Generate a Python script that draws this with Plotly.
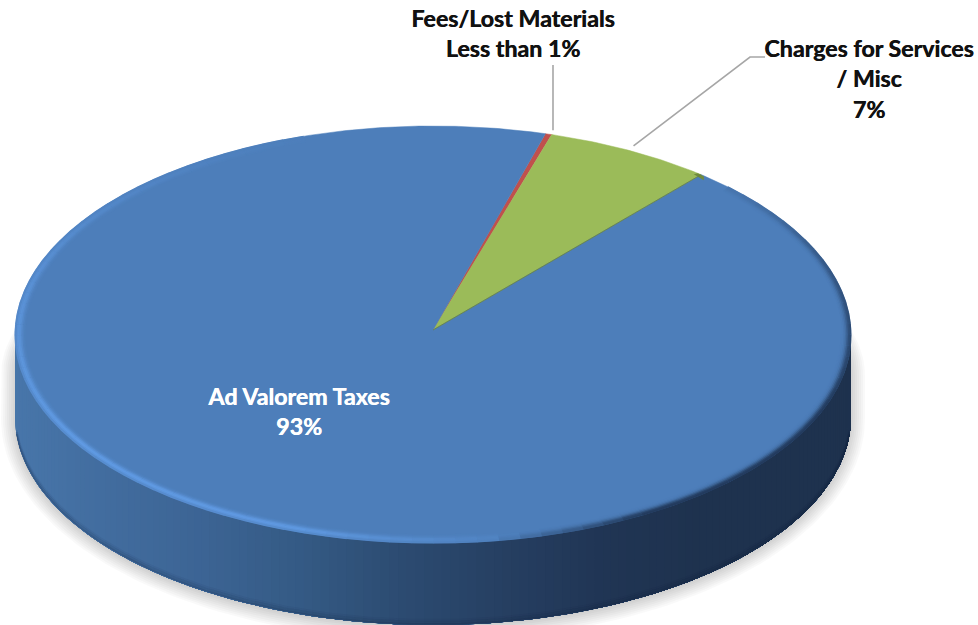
import numpy as np
import plotly.graph_objects as go

# Revenue shares, clockwise from the first slice
slice_names = ["Fees/Lost Materials", "Charges for Services / Misc", "Ad Valorem Taxes"]
slice_shares = [0.25, 6.5, 93.25]
slice_colors = ["#C0504D", "#9BBB59", "#4D7EBA"]

# Label rows: text, centre x, centre y
dark_rows = ["Fees/Lost Materials", "Less than 1%", "Charges for Services", "/ Misc", "7%"]
dark_x = [513, 513, 869, 869, 869]
dark_y = [21, 51, 51, 81, 112]
light_rows = ["Ad Valorem Taxes", "93%"]
light_x = [299, 299]
light_y = [399, 429]

# Pie geometry in page pixels
CX, CY, RX, RY_FRONT, RY_BACK = 433, 335, 418, 208, 209
APEX = (433, 330)
DEPTH = 82
FIRST_ANGLE = 15.6


def rim(deg, dr=0.0, dy=0.0):
    t = np.radians(deg)
    c = np.cos(t)
    ry = np.where(c > 0, RY_BACK, RY_FRONT)
    return CX + (RX - dr) * np.sin(t), CY + dy - (ry - dr * 0.8) * c


def mix(a, b, k):
    return tuple(a[i] + (b[i] - a[i]) * k for i in range(3))


def css(c):
    return "rgb(%d,%d,%d)" % tuple(round(v) for v in c)


# Side wall tint as a function of page x
wall_x = [14, 100, 200, 300, 400, 500, 600, 700, 851]
wall_rgb = np.array([(72, 118, 170), (66, 109, 159), (60, 100, 148), (52, 90, 132), (44, 75, 113),
                     (38, 63, 98), (32, 53, 84), (30, 50, 78), (30, 50, 78)], float)


def wall_color(x):
    return tuple(np.interp(x, wall_x, wall_rgb[:, i]) for i in range(3))


fig = go.Figure()


def poly(x, y, fill, line=None, width=0):
    fig.add_trace(go.Scatter(x=x, y=y, mode="lines", fill="toself", fillcolor=fill,
                             line=dict(color=line or "rgba(0,0,0,0)", width=width),
                             hoverinfo="skip", showlegend=False))


def stroke(x, y, color, width):
    fig.add_trace(go.Scatter(x=x, y=y, mode="lines", line=dict(color=color, width=width),
                             hoverinfo="skip", showlegend=False))


# Soft drop shadow under the disc
for grow in np.arange(16, 0, -2):
    low = np.linspace(90, 270, 121)
    lx = CX + (RX + grow - 2) * np.sin(np.radians(low))
    ly = CY + DEPTH + 2 - (RY_FRONT + grow - 2) * np.cos(np.radians(low))
    top = np.linspace(270, 450, 121)
    tx = CX + (RX + grow - 2) * np.sin(np.radians(top))
    ty = CY + 40 - (RY_FRONT - 30) * np.cos(np.radians(top))
    poly(np.r_[lx, tx], np.r_[ly, ty], "rgba(0,0,0,0.022)")

# Side wall: each layer runs from its left edge through to the right end of the
# wall, so the gradient steps sit on top of one another without seams
edges = np.linspace(270, 90, 151)
for a0 in edges[:-1]:
    seg = np.linspace(a0, 90, max(4, int(a0 - 90) + 1))
    x, y = rim(seg)
    poly(np.r_[x, x[::-1]], np.r_[y, y[::-1] + DEPTH], css(wall_color(x[0] + 1)))

# Darker bevel along the wall's lower edge
low = np.linspace(95, 265, 200)
for d, alpha, w in [(1, 0.22, 1.5), (3, 0.12, 2), (5, 0.05, 2)]:
    x, y = rim(low, 0, DEPTH - d)
    stroke(x, y, "rgba(10,25,50,%.2f)" % alpha, w)

# Fan the slices from the apex
start = FIRST_ANGLE
spans = []
for share in slice_shares:
    spans.append((start, start + share * 3.6))
    start += share * 3.6

for (a0, a1), col in zip(spans, slice_colors):
    seg = np.linspace(a0, a1, max(3, int(a1 - a0) * 2))
    x, y = rim(seg)
    poly(np.r_[APEX[0], x, APEX[0]], np.r_[APEX[1], y, APEX[1]], col, col, 0.5)

# Sliver of the green slice's wall showing at its trailing tip
green_end = spans[1][1]
tx, ty = rim(np.array([green_end - 0.6, green_end + 0.3]))
poly([tx[0], tx[1] + 1, tx[1] + 1, tx[0] - 4], [ty[0], ty[1] + 1, ty[1] + 5, ty[0] + 1], "#6F8A3C")

# Thin darker edge where the green slice meets the blue one
ex, ey = rim(np.array([green_end]))
stroke([APEX[0], ex[0]], [APEX[1], ey[0]], "rgba(105,130,60,0.8)", 1)

# Rim bevel on the blue slice: lit lower-left, shaded lower-right
LIGHT = (100, 160, 235)
DARK = (30, 52, 84)
BLUE = (77, 126, 186)
blue_a0, blue_a1 = spans[2]


def light_level(a):
    return float(np.interp(a, [165, 200, 240, 285, 320, 345], [0, 0.8, 0.85, 0.55, 0.18, 0]))


def dark_level(a):
    return float(np.interp(a, [45, 70, 110, 150, 172], [0.1, 0.5, 0.9, 0.9, 0]))


bands = np.arange(blue_a0 + 5, 352, 3.0)
for d in np.arange(11, 0, -1.5):
    fall_l = np.exp(-((d - 3.5) ** 2) / (2 * 2.6 ** 2))
    fall_d = np.exp(-((d - 0.5) ** 2) / (2 * 3.0 ** 2))
    for a0 in bands:
        seg = np.array([a0, a0 + 1.5, a0 + 3.05])
        x, y = rim(seg, d)
        mid = a0 + 1.5
        c = mix(BLUE, LIGHT, light_level(mid) * fall_l)
        c = mix(c, DARK, dark_level(mid) * fall_d)
        if max(abs(c[i] - BLUE[i]) for i in range(3)) > 0.8:
            stroke(x, y, css(c), 2)

# Leader lines from the small slices to their labels
fx, fy = rim(np.array([sum(spans[0]) / 2]), 0, -4)
stroke([553, 553], [65, fy[0]], "#A6A6A6", 1.6)
gx, gy = rim(np.array([sum(spans[1]) / 2]), 0, -5)
stroke([765, 750, gx[0] + 3], [57, 57, gy[0]], "#A6A6A6", 1.6)

# Labels, thickened slightly with a hairline offset copy of each glyph
for rows, xs, ys, color in [(dark_rows, dark_x, dark_y, "#111111"),
                            (light_rows, light_x, light_y, "#FFFFFF")]:
    fig.add_trace(go.Scatter(
        x=xs, y=ys, mode="text", text=rows, textposition="middle center",
        textfont=dict(family="Lato", size=23.2, color=color, weight="bold",
                      shadow="0.45px 0 0 " + color),
        hoverinfo="skip", showlegend=False))

fig.update_layout(
    width=978, height=625, margin=dict(l=0, r=0, t=0, b=0),
    paper_bgcolor="white", plot_bgcolor="white", showlegend=False,
    xaxis=dict(range=[0, 978], visible=False, fixedrange=True),
    yaxis=dict(range=[625, 0], visible=False, fixedrange=True),
)
fig.write_html("out.html", config=dict(displayModeBar=False))
